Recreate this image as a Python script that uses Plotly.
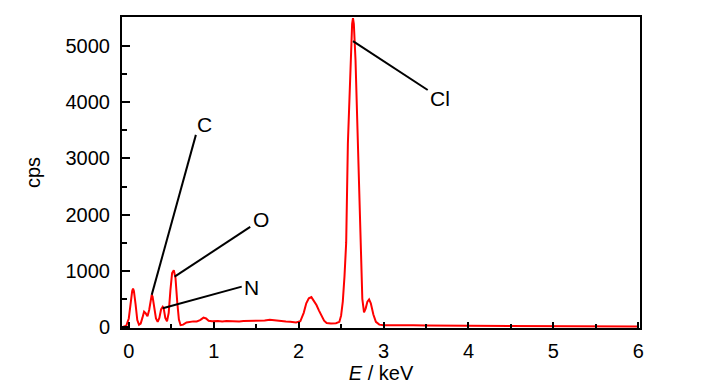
import plotly.graph_objects as go

# Spectrum (E in keV, counts per second)
energy = [-0.07, -0.03, 0.00, 0.02, 0.04, 0.05, 0.06, 0.08, 0.10, 0.12, 0.14, 0.16, 0.18, 0.20,
          0.22, 0.24, 0.26, 0.27, 0.28, 0.30, 0.32, 0.34, 0.36, 0.38, 0.40, 0.41, 0.43, 0.45,
          0.47, 0.49, 0.51, 0.53, 0.55, 0.57, 0.59, 0.61, 0.64, 0.68, 0.72, 0.76, 0.80, 0.84,
          0.88, 0.91, 0.94, 0.98, 1.05, 1.10, 1.15, 1.20, 1.25, 1.30, 1.35, 1.40, 1.45, 1.50,
          1.55, 1.60, 1.66, 1.72, 1.80, 1.85, 1.90, 1.97, 2.02, 2.06, 2.09, 2.12, 2.15, 2.18,
          2.21, 2.24, 2.27, 2.30, 2.33, 2.38, 2.44, 2.48, 2.50, 2.52, 2.54, 2.56, 2.58, 2.61,
          2.63, 2.64, 2.65, 2.67, 2.70, 2.73, 2.75, 2.77, 2.79, 2.81, 2.83, 2.85, 2.88, 2.91,
          2.95, 3.00, 3.10, 3.20, 3.35, 3.50, 3.70, 4.00, 4.30, 4.50, 4.80, 5.00, 5.30, 5.50,
          5.80, 6.00]
cps = [0, 20, 150, 420, 640, 680, 640, 400, 120, 40, 60, 160, 270, 240,
       190, 300, 520, 570, 540, 330, 150, 90, 160, 310, 360, 340, 160, 100,
       250, 650, 960, 1010, 870, 450, 130, 30, 40, 80, 95, 98, 95, 120,
       165, 150, 110, 100, 105, 96, 104, 100, 108, 98, 104, 106, 99, 103,
       108, 115, 125, 112, 100, 95, 90, 80, 100, 250, 420, 510, 530, 460,
       390, 290, 185, 110, 70, 60, 65, 90, 200, 450, 900, 1500, 3270, 4750,
       5400, 5500, 5400, 4750, 3270, 1500, 500, 260, 330, 450, 490, 420, 220, 90,
       40, 30, 32, 28, 30, 25, 24, 20, 18, 15, 14, 12, 10, 8,
       7, 5]

# Peak labels: element, label position, pointer end on the peak
elements = ["C", "O", "N", "Cl"]
label_x = [0.89, 1.56, 1.45, 3.66]
label_y = [3610, 1920, 710, 4075]
line_x0 = [0.79, 1.43, 1.33, 3.52]
line_y0 = [3420, 1780, 717, 4220]
peak_x = [0.27, 0.54, 0.40, 2.64]
peak_y = [570, 895, 333, 5090]

fig = go.Figure()
fig.add_trace(go.Scatter(x=energy, y=cps, mode="lines",
                         line=dict(color="#ff0000", width=2), showlegend=False))

for i in range(len(elements)):
    fig.add_trace(go.Scatter(x=[line_x0[i], peak_x[i]], y=[line_y0[i], peak_y[i]],
                             mode="lines", line=dict(color="black", width=2),
                             showlegend=False, hoverinfo="skip"))
    fig.add_annotation(x=label_x[i], y=label_y[i], text=elements[i], showarrow=False,
                       font=dict(size=21, color="black", family="Liberation Sans, Arial"))

axis_font = dict(family="Liberation Sans, Arial", size=20, color="black")
# the page body adds an 8px offset, so the figure is 8px smaller than the window
fig.update_layout(
    width=719, height=382,
    margin=dict(l=114, r=87, t=9, b=62, autoexpand=False),
    paper_bgcolor="white", plot_bgcolor="white",
    font=axis_font,
    xaxis=dict(range=[-0.08, 6.02], tickmode="array", tickvals=[0, 1, 2, 3, 4, 5, 6],
               ticks="inside", ticklen=6, tickwidth=2, tickcolor="black",
               minor=dict(tickvals=[0.5, 1.5, 2.5, 3.5, 4.5, 5.5], ticks="inside",
                          ticklen=4, tickwidth=1.5, tickcolor="black"),
               showline=True, linecolor="black", linewidth=2, mirror=True,
               showgrid=False, zeroline=False, ticklabelstandoff=4, automargin=False,
               title=dict(text="<i>E</i> / keV", standoff=4, font=axis_font)),
    yaxis=dict(range=[-20, 5520], tickmode="array", tickvals=[0, 1000, 2000, 3000, 4000, 5000],
               ticks="inside", ticklen=8, tickwidth=2, tickcolor="black",
               minor=dict(tickvals=[500, 1500, 2500, 3500, 4500], ticks="inside",
                          ticklen=5, tickwidth=1.5, tickcolor="black"),
               showline=True, linecolor="black", linewidth=2, mirror=True,
               showgrid=False, zeroline=False, ticklabelstandoff=6, automargin=False,
               title=dict(text="cps", standoff=20, font=axis_font)),
)

fig.write_html("out.html")
